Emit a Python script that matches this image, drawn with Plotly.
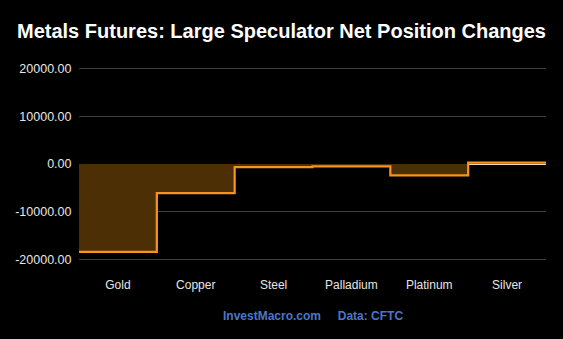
import plotly.graph_objects as go

# Weekly net position changes for large speculators, metals futures
categories = ["Gold", "Copper", "Steel", "Palladium", "Platinum", "Silver"]
net_changes = [-18400, -6100, -650, -480, -2400, 300]
y_tick_values = [-20000, -10000, 0, 10000, 20000]
y_tick_labels = [f"{v:.2f}" for v in y_tick_values]

# Step line spans each category band: edges at i-0.5 .. i+0.5
edges = [i - 0.5 for i in range(len(categories) + 1)]
step_y = net_changes + [net_changes[-1]]

fig = go.Figure()
fig.add_trace(go.Scatter(
    x=edges,
    y=step_y,
    mode="lines",
    line=dict(shape="hv", color="#f7941d", width=2.2),
    fill="tozeroy",
    fillcolor="#4d2f06",
    hoverinfo="skip",
    showlegend=False,
))

fig.update_layout(
    width=563,
    height=339,
    paper_bgcolor="#000000",
    plot_bgcolor="#000000",
    margin=dict(l=79, r=17, t=66, b=77),
    font=dict(family="Liberation Sans, Arial, sans-serif", color="#e6e6e6", size=12),
    title=dict(
        text="<b>Metals Futures: Large Speculator Net Position Changes</b>",
        x=0.5,
        xanchor="center",
        y=0.908,
        yanchor="middle",
        font=dict(size=20, color="#ffffff", family="Liberation Sans, Arial, sans-serif"),
    ),
    xaxis=dict(
        range=[-0.5, len(categories) - 0.5],
        tickvals=list(range(len(categories))),
        ticktext=categories,
        showgrid=False,
        zeroline=False,
        showline=False,
        ticks="outside",
        ticklen=12,
        tickcolor="rgba(0,0,0,0)",
        tickfont=dict(size=12, color="#e6e6e6"),
    ),
    yaxis=dict(
        range=[-20500, 20500],
        tickvals=y_tick_values,
        ticktext=y_tick_labels,
        gridcolor="#3c3c3c",
        gridwidth=1,
        zeroline=True,
        zerolinecolor="#e8d9bd",
        zerolinewidth=1.2,
        ticks="outside",
        ticklen=4,
        tickcolor="rgba(0,0,0,0)",
        tickfont=dict(size=12.5, color="#e6e6e6"),
    ),
    annotations=[
        dict(
            text="<b>InvestMacro.com</b>&nbsp;&nbsp;&nbsp;&nbsp;&nbsp;<b>Data: CFTC</b>",
            xref="paper", yref="paper",
            x=0.5, y=-0.275,
            xanchor="center", yanchor="middle",
            showarrow=False,
            font=dict(size=12, color="#4a77c9", family="Liberation Sans, Arial, sans-serif"),
        )
    ],
)

fig.write_html("out.html")
